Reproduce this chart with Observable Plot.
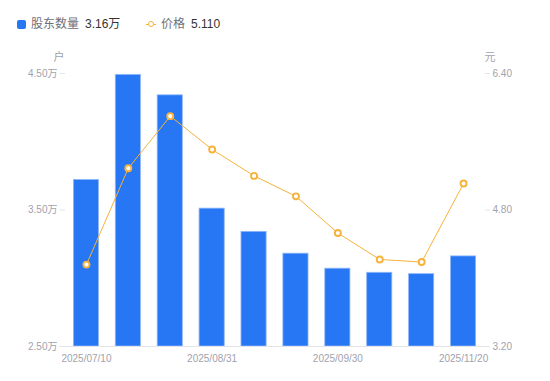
<!DOCTYPE html>
<html><head><meta charset="utf-8">
<script src="https://cdn.jsdelivr.net/npm/d3@7"></script>
<script src="https://cdn.jsdelivr.net/npm/@observablehq/plot@0.6"></script>
<style>
body{margin:0;background:#fff;font-family:"Liberation Sans","Noto Sans CJK SC",sans-serif;}
#wrap{position:relative;width:550px;height:381px;}
#legend{position:relative;height:40px;font-size:12px;}
.li{position:absolute;top:17px;white-space:nowrap;line-height:14px;}
.nm{color:#6e7079;}
.vl{color:#333;margin-left:6px;}
.sq{display:inline-block;width:9px;height:9px;border-radius:2px;background:#2777f5;vertical-align:-1px;margin-right:5px;}
.ci{display:inline-block;position:relative;width:10px;height:10px;vertical-align:-1px;margin-right:5px;}
.ci:before{content:"";position:absolute;left:0;top:4.5px;width:10px;height:1px;background:#f7b23b;}
.ci:after{content:"";position:absolute;left:2px;top:2px;width:4px;height:4px;border:1.5px solid #f7b23b;border-radius:50%;background:#fff;}
</style></head>
<body>
<div id="wrap">
<div id="legend"></div>
<div id="chart"></div>
</div>
<script>
const dates = ["2025/07/10","2025/07/31","2025/08/10","2025/08/31","2025/09/10","2025/09/19","2025/09/30","2025/10/20","2025/10/31","2025/11/20"];
const holders = [3.72,4.49,4.34,3.51,3.34,3.18,3.07,3.04,3.03,3.16];
const prices = [4.16,5.29,5.90,5.51,5.20,4.96,4.53,4.22,4.19,5.11];
const holderTicks = [2.5,3.5,4.5];
const priceMin = 3.2, priceMax = 6.4;
const xTickLabels = ["2025/07/10","2025/08/31","2025/09/30","2025/11/20"];
const legendHolder = "3.16万", legendPrice = "5.110";

const hMin = holderTicks[0], hMax = holderTicks[holderTicks.length-1];
const toLeft = p => hMin + (p - priceMin) * (hMax - hMin) / (priceMax - priceMin);
const toPrice = h => priceMin + (h - hMin) * (priceMax - priceMin) / (hMax - hMin);

const data = dates.map((d,i)=>({date:d, holders:holders[i], price:prices[i], pY:toLeft(prices[i])}));

document.getElementById("legend").innerHTML =
  `<div class="li" style="left:17px"><span class="sq"></span><span class="nm">股东数量</span><span class="vl">${legendHolder}</span></div>`+
  `<div class="li" style="left:146px"><span class="ci"></span><span class="nm">价格</span><span class="vl">${legendPrice}</span></div>`;

const axisText = "#9fa2ad", axisLine = "#e2e4e9", blue = "#2777f5", orange = "#f7b23b";

const chart = Plot.plot({
  width: 550, height: 341,
  marginTop: 33, marginBottom: 35, marginLeft: 65, marginRight: 66,
  style: {fontFamily: '"Liberation Sans","Noto Sans CJK SC",sans-serif', fontSize: "10px", background: "#fff"},
  x: {type: "band", domain: dates, paddingInner: 0.4, paddingOuter: 0.2, round: false, axis: null, label: null},
  y: {domain: [hMin, hMax], axis: null, label: null},
  marks: [
    Plot.barY(data, {x: "date", y1: hMin, y2: "holders", fill: blue, stroke: "#8fb7fa", strokeWidth: 0.8}),
    Plot.ruleY([hMin], {stroke: axisLine, insetLeft: -6, insetRight: -6}),
    Plot.axisY({ticks: holderTicks, anchor: "left", label: null, tickSize: 5, tickPadding: 3, line: true, stroke: axisLine, fill: axisText,
      tickFormat: d => d.toFixed(2) + "万"}),
    Plot.axisY({ticks: holderTicks, anchor: "right", label: null, tickSize: 5, tickPadding: 3, line: true, stroke: axisLine, fill: axisText,
      tickFormat: d => toPrice(d).toFixed(2)}),
    Plot.axisX({ticks: xTickLabels, label: null, tickSize: 0, tickPadding: 8, fill: axisText, stroke: axisLine}),
    Plot.line(data, {x: "date", y: "pY", stroke: orange, strokeWidth: 1}),
    Plot.dot(data, {x: "date", y: "pY", r: 3, fill: "#fff", stroke: orange, strokeWidth: 1.9}),
    Plot.text(["户"], {text: d => d, frameAnchor: "top-left", textAnchor: "start", lineAnchor: "middle", dx: -12, dy: -16, fill: axisText, fontSize: 11}),
    Plot.text(["元"], {text: d => d, frameAnchor: "top-right", textAnchor: "start", lineAnchor: "middle", dx: 0, dy: -16, fill: axisText, fontSize: 11})
  ]
});
document.getElementById("chart").appendChild(chart);
</script>
</body></html>
